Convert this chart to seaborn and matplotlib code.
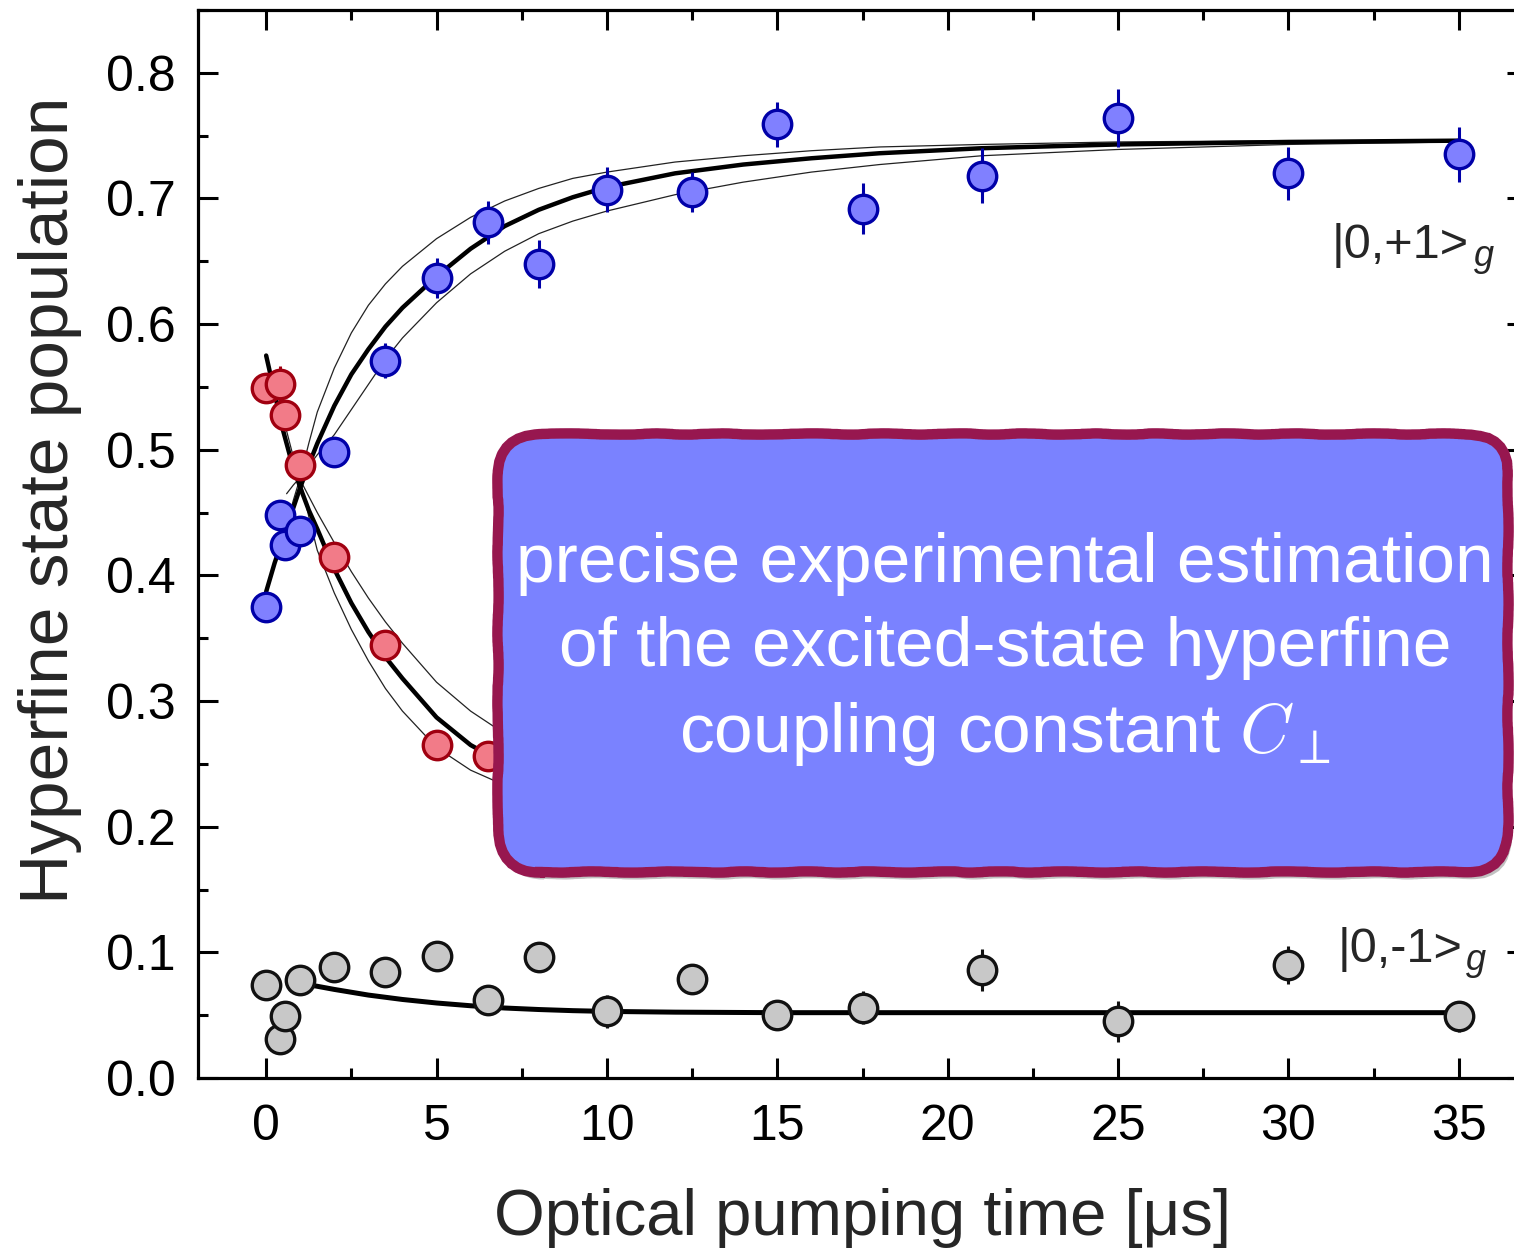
import numpy as np
import pandas as pd
import matplotlib
matplotlib.use("Agg")
import matplotlib.pyplot as plt
import seaborn as sns
from matplotlib.patches import FancyBboxPatch
from matplotlib.transforms import IdentityTransform
import matplotlib.patheffects as pe
from matplotlib.ticker import MultipleLocator

# ---------------- data ----------------
t_meas = [0, 0.4, 0.56, 1.0, 2.0, 3.5, 5.0, 6.5, 8.0, 10, 12.5, 15, 17.5, 21, 25, 30, 35]

pop_plus = [0.375, 0.448, 0.424, 0.435, 0.498, 0.571, 0.637, 0.681, 0.648, 0.707,
            0.705, 0.759, 0.692, 0.718, 0.764, 0.720, 0.735]
err_plus = [0.010, 0.008, 0.008, 0.008, 0.006, 0.014, 0.016, 0.017, 0.019, 0.018,
            0.016, 0.018, 0.020, 0.022, 0.023, 0.021, 0.022]

pop_zero = [0.549, 0.552, 0.528, 0.488, 0.415, 0.345, 0.265, 0.256, 0.240, 0.222,
            0.212, 0.196, 0.214, 0.195, 0.198, 0.190, 0.201]
err_zero = [0.012, 0.015, 0.008, 0.008, 0.006, 0.006, 0.006, 0.006, 0.010, 0.010,
            0.010, 0.010, 0.010, 0.010, 0.010, 0.010, 0.010]

pop_minus = [0.074, 0.031, 0.049, 0.078, 0.088, 0.084, 0.097, 0.062, 0.096, 0.053,
             0.079, 0.050, 0.056, 0.086, 0.045, 0.090, 0.049]
err_minus = [0.006, 0.006, 0.008, 0.006, 0.006, 0.006, 0.006, 0.012, 0.012, 0.013,
             0.012, 0.011, 0.013, 0.017, 0.016, 0.015, 0.012]

# fit curves
t_fit = [0, 0.25, 0.5, 0.75, 1, 1.25, 1.5, 2, 2.5, 3, 3.5, 4, 5, 6, 7, 8, 9, 10,
         12, 14, 16, 18, 21, 25, 30, 35]
fit_plus = [0.387, 0.410, 0.430, 0.450, 0.470, 0.488, 0.505, 0.535, 0.560, 0.580,
            0.598, 0.613, 0.638, 0.660, 0.678, 0.691, 0.701, 0.709, 0.720, 0.727,
            0.732, 0.736, 0.740, 0.743, 0.745, 0.746]
fit_zero = [0.575, 0.545, 0.515, 0.490, 0.470, 0.452, 0.437, 0.405, 0.378, 0.355,
            0.335, 0.318, 0.287, 0.265, 0.250, 0.238, 0.229, 0.222, 0.213, 0.208,
            0.205, 0.203, 0.202, 0.201, 0.201, 0.201]

t_band = [0.6, 0.8, 1, 1.25, 1.5, 2, 2.5, 3, 3.5, 4, 5, 6, 7, 8, 9, 10, 12, 14,
          16, 18, 21, 25, 30, 35]
band_plus_hi = [0.440, 0.460, 0.478, 0.505, 0.530, 0.565, 0.593, 0.615, 0.632, 0.646,
                0.668, 0.685, 0.698, 0.708, 0.716, 0.721, 0.729, 0.734, 0.738, 0.741,
                0.743, 0.745, 0.746, 0.746]
band_plus_lo = [0.465, 0.472, 0.478, 0.487, 0.496, 0.512, 0.532, 0.552, 0.572, 0.589,
                0.617, 0.640, 0.658, 0.672, 0.682, 0.690, 0.703, 0.713, 0.721, 0.727,
                0.734, 0.739, 0.743, 0.745]
band_zero_hi = [0.490, 0.483, 0.476, 0.463, 0.450, 0.426, 0.403, 0.382, 0.363, 0.346,
                0.315, 0.292, 0.274, 0.261, 0.250, 0.241, 0.229, 0.220, 0.214, 0.209,
                0.205, 0.202, 0.201, 0.201]
band_zero_lo = [0.515, 0.494, 0.476, 0.447, 0.420, 0.386, 0.357, 0.332, 0.310, 0.292,
                0.263, 0.245, 0.233, 0.224, 0.217, 0.212, 0.206, 0.203, 0.201, 0.200,
                0.200, 0.200, 0.200, 0.200]

t_fit_minus = [1.3, 2, 3, 4, 5, 6, 7, 8, 9, 10, 12, 15, 20, 25, 30, 35]
fit_minus = [0.074, 0.0705, 0.066, 0.0625, 0.0597, 0.0575, 0.0557, 0.0545, 0.0536,
             0.053, 0.0524, 0.052, 0.052, 0.052, 0.052, 0.052]

x_ticks = [0, 5, 10, 15, 20, 25, 30, 35]
y_ticks = [0.0, 0.1, 0.2, 0.3, 0.4, 0.5, 0.6, 0.7, 0.8]
y_tick_labels = ["0.0", "0.1", "0.2", "0.3", "0.4", "0.5", "0.6", "0.7", "0.8"]

# ---------------- style ----------------
sns.set_theme(style="ticks")
plt.rcParams["font.family"] = ["Liberation Sans", "DejaVu Sans"]
plt.rcParams["mathtext.fontset"] = "cm"

W, H = 1514, 1255
fig = plt.figure(figsize=(W / 100, H / 100), dpi=100)
fig.patch.set_facecolor("white")
ax = fig.add_axes([198 / W, 1 - 1078 / H, (1527 - 198) / W, (1078 - 10) / H])
ax.set_facecolor("white")

# fit curves
thin_kw = dict(color="#222222", linewidth=0.9, estimator=None, sort=False, legend=False, ax=ax, zorder=2)
thick_kw = dict(color="black", linewidth=3.2, estimator=None, sort=False, legend=False, ax=ax, zorder=2)
for yb in (band_plus_hi, band_plus_lo, band_zero_hi, band_zero_lo):
    sns.lineplot(x=t_band, y=yb, **thin_kw)
sns.lineplot(x=t_fit, y=fit_plus, **thick_kw)
sns.lineplot(x=t_fit, y=fit_zero, **thick_kw)
sns.lineplot(x=t_fit_minus, y=fit_minus, color="black", linewidth=3.6,
             estimator=None, sort=False, legend=False, ax=ax, zorder=2)

# measured points
series = [
    (pop_plus, err_plus, "#8080ff", "#0000a8"),
    (pop_zero, err_zero, "#f27b88", "#a00010"),
    (pop_minus, err_minus, "#c8c8c8", "#111111"),
]
for pop, err, face, edge in series:
    ax.errorbar(t_meas, pop, yerr=err, fmt="none", ecolor=edge, elinewidth=2.2,
                capsize=0, zorder=3)
    sns.scatterplot(x=t_meas, y=pop, s=420, color=face, edgecolor=edge,
                    linewidth=2.4, ax=ax, zorder=4, legend=False)

# axes
ax.set_xlim(-2, 37)
ax.set_ylim(0, 0.85)
ax.set_xticks(x_ticks)
ax.set_xticklabels([str(v) for v in x_ticks])
ax.set_yticks(y_ticks)
ax.set_yticklabels(y_tick_labels)
ax.xaxis.set_minor_locator(MultipleLocator(2.5))
ax.yaxis.set_minor_locator(MultipleLocator(0.05))
ax.tick_params(which="both", direction="in", top=True, right=True, width=2.2,
               colors="black", labelsize=36)
ax.tick_params(which="major", length=14.4)
ax.tick_params(which="minor", length=7.2)
ax.tick_params(axis="y", which="major", pad=16)
ax.tick_params(axis="x", which="major", pad=19)
for name, sp in ax.spines.items():
    sp.set_visible(name != "right")
    sp.set_linewidth(2.3)
    sp.set_color("black")
ax.set_xlabel("")
ax.set_ylabel("")

fig.text(50 / W, 1 - 500 / H, "Hyperfine state population", rotation=90,
         ha="center", va="center", fontsize=50)
fig.text(863 / W, 1 - 1218 / H, "Optical pumping time [\u03bcs]",
         ha="center", va="center", fontsize=47)

# state labels
ax.text(31.28, 0.653, "|0,+1>", fontsize=35, ha="left", va="baseline", zorder=5)
ax.text(35.45, 0.646, "g", fontsize=26, style="italic", ha="left", va="baseline", zorder=5)
ax.text(31.43, 0.0925, "|0,-1>", fontsize=35, ha="left", va="baseline", zorder=5)
ax.text(35.2, 0.086, "g", fontsize=26, style="italic", ha="left", va="baseline", zorder=5)

# annotation box (pixel coordinates)
box = FancyBboxPatch((498, H - 872), 1010, 438,
                     boxstyle="round,pad=0,rounding_size=42",
                     transform=IdentityTransform(), facecolor="#7a82ff",
                     edgecolor="#97174f", linewidth=7.5, zorder=10, clip_on=False)
box.set_path_effects([pe.SimplePatchShadow(offset=(3, -5), shadow_rgbFace="#777777", alpha=0.45),
                      pe.Normal()])
box.set_sketch_params(scale=0.6, length=140, randomness=8)
fig.add_artist(box)

fig.text(1005 / W, 1 - 650 / H,
         "precise experimental estimation\nof the excited-state hyperfine\ncoupling constant $C_{\\perp}$",
         ha="center", va="center", fontsize=50, color="white", linespacing=1.4,
         multialignment="center", zorder=11)

fig.savefig("out.png", dpi=100, facecolor="white")
